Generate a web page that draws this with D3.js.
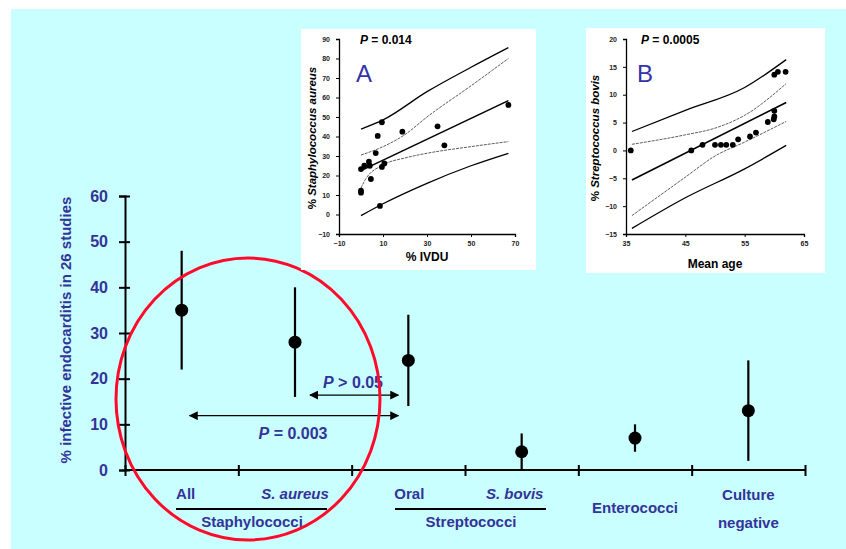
<!DOCTYPE html>
<html>
<head>
<meta charset="utf-8">
<script src="https://cdn.jsdelivr.net/npm/d3@7"></script>
<style>
  body { margin: 0; background: #fff; }
  text { font-family: Arial, "Liberation Sans", sans-serif; }
</style>
</head>
<body>
<div id="chart"></div>
<script>
// main chart data
var categories = ["All", "S. aureus", "Oral", "S. bovis", "Enterococci", "Culture negative"];
var means = [35, 28, 24, 4, 7, 13];
var lows = [22, 16, 14, 0, 4, 2];
var highs = [48, 40, 34, 8, 10, 24];
var yTicks = [0, 10, 20, 30, 40, 50, 60];

// inset A: % IVDU vs % S. aureus
var ivdu = [0, 0, 0, 1.5, 3.6, 4, 4.5, 6.7, 7.6, 9.5, 9.5, 10.6, 8.6, 18.8, 34.8, 37.9, 67];
var aureusPct = [23.3, 12.2, 11.2, 25, 27.1, 25, 18.2, 31.5, 40.3, 47.3, 24.4, 26.2, 4.4, 42.5, 45.2, 35.5, 56.2];
var regA = [[0, 22.5], [67, 58.4]];
var outerUpA = [[0, 43.8], [10, 48.5], [30, 63], [50, 75.5], [67, 85.6]];
var outerLoA = [[0, -0.6], [10, 5.5], [30, 16], [50, 25], [67, 31.4]];
var innerUpA = [[0, 30.5], [10, 34.8], [20, 41], [30, 50], [50, 66], [67, 80]];
var innerLoA = [[0, 13.5], [2, 18], [10, 25.4], [20, 29], [30, 31.4], [50, 34.8], [67, 37.4]];
var aXTicks = [-10, 10, 30, 50, 70];
var aYTicks = [-10, 0, 10, 20, 30, 40, 50, 60, 70, 80, 90];

// inset B: mean age vs % S. bovis
var meanAge = [35.8, 46, 47.9, 50, 51, 51.9, 53, 53.9, 55.9, 56.9, 58.9, 59.9, 60, 60, 60, 60.6, 61.9];
var bovisPct = [0, 0, 1, 1, 1, 1, 1, 2, 2.5, 3.2, 5.1, 5.6, 6.1, 7.1, 13.6, 14.1, 14.1];
var regB = [[36, -5.3], [62, 8.6]];
var outerUpB = [[36, 3.4], [45, 7.2], [55, 11.3], [62, 16.3]];
var outerLoB = [[36, -14], [45, -8.5], [55, -3.3], [62, 0.9]];
var innerUpB = [[36, 1.1], [45, 2.8], [50, 4], [55, 6.3], [62, 12]];
var innerLoB = [[36, -11.7], [45, -4.8], [50, -1], [55, 1.5], [62, 5.2]];
var bXTicks = [35, 45, 55, 65];
var bYTicks = [-15, -10, -5, 0, 5, 10, 15, 20];

var blue = "#333399";

var svg = d3.select("#chart").append("svg")
    .attr("width", 846)
    .attr("height", 549);

svg.append("rect").attr("width", 846).attr("height", 549).attr("fill", "#fff");
svg.append("rect").attr("x", 11).attr("y", 9).attr("width", 835).attr("height", 540).attr("fill", "#c9ffff");

// ---- main chart ----
var x = d3.scaleBand().domain(categories).range([125, 805]);
var xEdge = d3.scaleLinear().domain([0, 6]).range([125, 805]);
var y = d3.scaleLinear().domain([0, 60]).range([470, 196]);

var yAxis = svg.append("g")
    .attr("transform", "translate(125,0)")
    .call(d3.axisLeft(y).tickValues(yTicks).tickSize(6).tickPadding(11));
yAxis.select(".domain").attr("stroke", "#000").attr("stroke-width", 2);
yAxis.selectAll(".tick line").attr("x1", 5).attr("stroke", "#000").attr("stroke-width", 2);
yAxis.selectAll(".tick text")
    .attr("fill", blue).attr("font-size", 16).attr("font-weight", "bold")
    .style("font-family", "Arial, 'Liberation Sans', sans-serif");

var xAxis = svg.append("g")
    .attr("transform", "translate(0,470)")
    .call(d3.axisBottom(xEdge).ticks(6).tickSize(6).tickFormat(""));
xAxis.select(".domain").attr("stroke", "#000").attr("stroke-width", 2).attr("d", "M125,0H805");
xAxis.selectAll(".tick line").attr("y1", -5).attr("stroke", "#000").attr("stroke-width", 2);

svg.append("text")
    .attr("transform", "translate(71,330) rotate(-90)")
    .attr("text-anchor", "middle")
    .attr("fill", blue).attr("font-size", 15).attr("font-weight", "bold")
    .text("% infective endocarditis in 26 studies");

var pts = svg.append("g");
categories.forEach(function(c, i) {
    var cx = x(c) + x.bandwidth() / 2;
    pts.append("line")
        .attr("x1", cx).attr("x2", cx)
        .attr("y1", y(lows[i])).attr("y2", y(highs[i]))
        .attr("stroke", "#000").attr("stroke-width", 2.2);
    pts.append("circle")
        .attr("cx", cx).attr("cy", y(means[i])).attr("r", 6.5)
        .attr("fill", "#000");
});

// category labels
function catText(txt, cx, cy, italic) {
    svg.append("text")
        .attr("x", cx).attr("y", cy)
        .attr("text-anchor", "middle").attr("dominant-baseline", "central")
        .attr("fill", blue).attr("font-size", 15).attr("font-weight", "bold")
        .attr("font-style", italic ? "italic" : "normal")
        .text(txt);
}
function mid(c) { return x(c) + x.bandwidth() / 2; }
catText("All", mid("All") + 4, 493, false);
catText("S. aureus", mid("S. aureus"), 493, true);
catText("Oral", mid("Oral") + 1, 493, false);
catText("S. bovis", mid("S. bovis") - 7, 493, true);
catText("Enterococci", mid("Enterococci"), 507, false);
catText("Culture", mid("Culture negative"), 494, false);
catText("negative", mid("Culture negative"), 522, false);

// group underlines
svg.append("line").attr("x1", 176).attr("x2", 327).attr("y1", 509).attr("y2", 509)
    .attr("stroke", "#000").attr("stroke-width", 2);
catText("Staphylococci", 252, 521, false);
svg.append("line").attr("x1", 395).attr("x2", 546).attr("y1", 509).attr("y2", 509)
    .attr("stroke", "#000").attr("stroke-width", 2);
catText("Streptococci", 471, 521, false);

// comparison arrows
var defs = svg.append("defs");
defs.append("marker").attr("id", "ah").attr("viewBox", "0 0 10 10")
    .attr("refX", 9).attr("refY", 5).attr("markerWidth", 9).attr("markerHeight", 9)
    .attr("markerUnits", "userSpaceOnUse").attr("orient", "auto-start-reverse")
    .append("path").attr("d", "M0,0L10,5L0,10Z").attr("fill", "#000");

function arrow(x1, x2, yv) {
    svg.append("line")
        .attr("x1", x1).attr("x2", x2).attr("y1", y(yv)).attr("y2", y(yv))
        .attr("stroke", "#000").attr("stroke-width", 1.3)
        .attr("marker-start", "url(#ah)").attr("marker-end", "url(#ah)");
}
arrow(mid("S. aureus") + 15, mid("Oral") - 10, 16.4);
arrow(mid("All") + 8, mid("Oral") - 10, 11.9);

function pText(x0, y0, rest) {
    var t = svg.append("text").attr("x", x0).attr("y", y0).attr("text-anchor", "middle")
        .attr("fill", blue).attr("font-size", 16).attr("font-weight", "bold");
    t.append("tspan").attr("font-style", "italic").text("P");
    t.append("tspan").text(rest);
}
pText(353, 388, " > 0.05");
pText(293, 439, " = 0.003");

// red circle
svg.append("ellipse")
    .attr("cx", 248).attr("cy", 399).attr("rx", 132).attr("ry", 141)
    .attr("fill", "none").attr("stroke", "#ff0a2a").attr("stroke-width", 3);

// ---- insets ----
function inset(o) {
    var g = svg.append("g");
    g.append("rect").attr("x", o.box[0]).attr("y", o.box[1])
        .attr("width", o.box[2]).attr("height", o.box[3]).attr("fill", "#fff");
    var sx = d3.scaleLinear().domain(o.xd).range(o.xr);
    var sy = d3.scaleLinear().domain(o.yd).range([234, 39]);

    var ax = g.append("g").attr("transform", "translate(0,234)")
        .call(d3.axisBottom(sx).tickValues(o.xt).tickSize(3).tickPadding(4));
    var ay = g.append("g").attr("transform", "translate(" + o.xr[0] + ",0)")
        .call(d3.axisLeft(sy).tickValues(o.yt).tickSize(3).tickPadding(6));
    [ax, ay].forEach(function(a) {
        a.select(".domain").attr("stroke", "#000").attr("stroke-width", 1.3);
        a.selectAll(".tick line").attr("stroke", "#000");
        a.selectAll(".tick text").attr("fill", "#222").attr("font-size", 7)
            .attr("font-weight", "bold")
            .style("font-family", "Arial, 'Liberation Sans', sans-serif");
    });

    var line = d3.line().x(function(d) { return sx(d[0]); }).y(function(d) { return sy(d[1]); })
        .curve(d3.curveMonotoneX);
    g.append("path").attr("d", line(o.outerUp)).attr("fill", "none").attr("stroke", "#000").attr("stroke-width", 1.3);
    g.append("path").attr("d", line(o.outerLo)).attr("fill", "none").attr("stroke", "#000").attr("stroke-width", 1.3);
    g.append("path").attr("d", line(o.innerUp)).attr("fill", "none").attr("stroke", "#333").attr("stroke-width", 0.8).attr("stroke-dasharray", "3,1");
    g.append("path").attr("d", line(o.innerLo)).attr("fill", "none").attr("stroke", "#333").attr("stroke-width", 0.8).attr("stroke-dasharray", "3,1");
    g.append("path").attr("d", line(o.reg)).attr("fill", "none").attr("stroke", "#000").attr("stroke-width", 1.6);

    o.xs.forEach(function(v, i) {
        g.append("circle").attr("cx", sx(v)).attr("cy", sy(o.ys[i])).attr("r", 2.9).attr("fill", "#000");
    });

    var pt = g.append("text").attr("x", o.px).attr("y", 44)
        .attr("font-size", 12).attr("font-weight", "bold").attr("fill", "#000");
    pt.append("tspan").attr("font-style", "italic").text("P");
    pt.append("tspan").text(o.pval);

    g.append("text").attr("x", o.px - 4).attr("y", 82).attr("font-size", 24)
        .attr("fill", "#3333aa").text(o.letter);

    var yt = g.append("text")
        .attr("transform", "translate(" + o.ytx + ",138) rotate(-90)")
        .attr("text-anchor", "middle").attr("font-size", 11.5).attr("font-weight", "bold").attr("fill", "#000");
    yt.append("tspan").text("% ");
    yt.append("tspan").attr("font-style", "italic").text(o.ytitle);

    g.append("text").attr("x", (o.xr[0] + o.xr[1]) / 2).attr("y", o.xty)
        .attr("text-anchor", "middle").attr("font-size", o.xtsize).attr("font-weight", "bold").attr("fill", "#000")
        .text(o.xtitle);
}

inset({
    box: [301, 29, 235, 241], xd: [-10, 70], xr: [339, 515], yd: [-10, 90],
    xt: aXTicks, yt: aYTicks, xs: ivdu, ys: aureusPct,
    reg: regA, outerUp: outerUpA, outerLo: outerLoA, innerUp: innerUpA, innerLo: innerLoA,
    px: 360, pval: " = 0.014", letter: "A", ytx: 316, ytitle: "Staphylococcus aureus",
    xtitle: "% IVDU", xty: 261, xtsize: 12
});
inset({
    box: [586, 28, 239, 245], xd: [35, 65], xr: [626, 804], yd: [-15, 20],
    xt: bXTicks, yt: bYTicks, xs: meanAge, ys: bovisPct,
    reg: regB, outerUp: outerUpB, outerLo: outerLoB, innerUp: innerUpB, innerLo: innerLoB,
    px: 641, pval: " = 0.0005", letter: "B", ytx: 599, ytitle: "Streptococcus bovis",
    xtitle: "Mean age", xty: 268, xtsize: 12
});
</script>
</body>
</html>
